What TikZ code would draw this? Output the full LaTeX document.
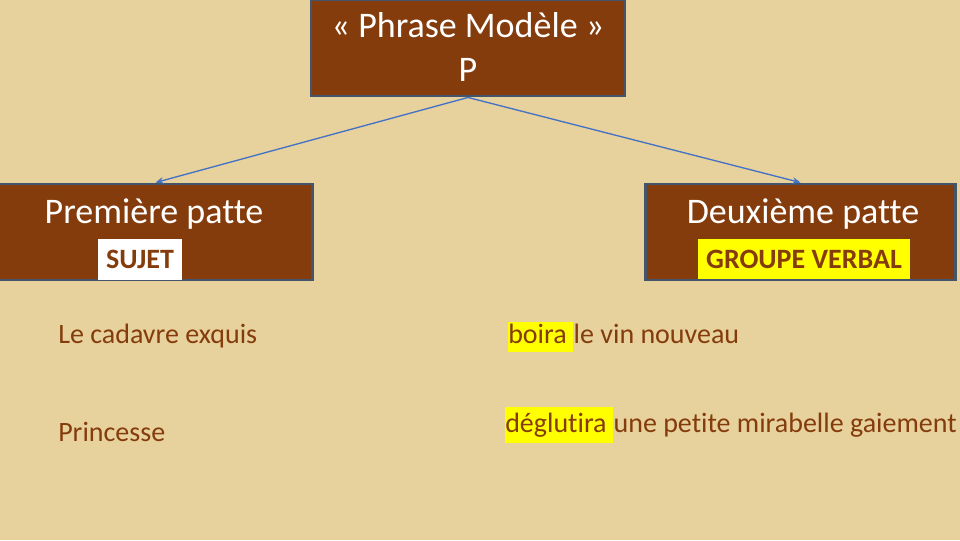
\documentclass[tikz,border=0pt]{standalone}
\usepackage{fontspec}
\setmainfont{Carlito}[Ligatures={NoCommon}]
\usepackage{tikz}
\usetikzlibrary{arrows.meta}

\definecolor{papyrus}{RGB}{231,209,156}
\definecolor{brun}{RGB}{132,60,12}
\definecolor{bord}{RGB}{68,84,106}
\definecolor{fleche}{RGB}{68,114,196}
\definecolor{surligne}{RGB}{255,255,0}

\tikzset{
  patte/.style={draw=bord, line width=2.2pt, fill=brun, inner sep=0pt},
  titre/.style={text=white, font=\fontsize{27}{32}\selectfont, anchor=base, inner sep=0pt},
  etiquette/.style={text=brun, font=\bfseries\fontsize{21}{25}\selectfont, inner sep=0pt},
  exemple/.style={text=brun, font=\fontsize{21}{25}\selectfont, anchor=base west, inner sep=0pt},
  marque/.style={exemple, fill=surligne},
  lien/.style={draw=fleche, line width=1pt, -{Stealth[length=6pt,width=5pt]}}
}

\begin{document}
\begin{tikzpicture}[x=0.75pt,y=-0.75pt]
    \fill[papyrus] (0,0) rectangle (960,540);
    \useasboundingbox (0,0) rectangle (960,540);

    % les trois cadres
    \node[patte, minimum width=235.5pt, minimum height=72pt] (phrase) at (468,48) {};
    \node[patte, minimum width=236pt, minimum height=72pt] (premiere) at (155.5,232) {};
    \node[patte, minimum width=233pt, minimum height=72pt] (deuxieme) at (800.5,232) {};

    \node[titre] (phrasetxt) at (468,37) {« Phrase Modèle »};
    \node[titre] (ptxt) at (468,81) {P};
    \node[titre] (premieretxt) at (154,223) {Première patte};
    \node[titre] (deuxiemetxt) at (803,223) {Deuxième patte};

    \node[etiquette, fill=white, minimum width=63pt, minimum height=30.75pt] (sujet) at (140,259) {SUJET};
    \node[etiquette, fill=surligne, minimum width=159pt, minimum height=30pt] (gv) at (804,259) {GROUPE VERBAL};

    % les fleches
    \draw[lien] (phrase.south) -- (premiere.north);
    \draw[lien] (phrase.south) -- (deuxieme.north);

    % les exemples
    \node[exemple] (cadavre) at (58,343) {Le cadavre exquis};
    \node[exemple] (princesse) at (58,441) {Princesse};

    \node[marque, text height=15.75pt, text depth=6.75pt] (boira) at (508,343) {boira\kern0.23em};
    \node[exemple] (vin) at (boira.base east) {le vin nouveau};
    \node[marque, text height=18.75pt, text depth=8.25pt] (deglutira) at (505,432) {déglutira\kern0.23em};
    \node[exemple] (mirabelle) at (deglutira.base east) {une petite mirabelle gaiement};
\end{tikzpicture}
\end{document}
